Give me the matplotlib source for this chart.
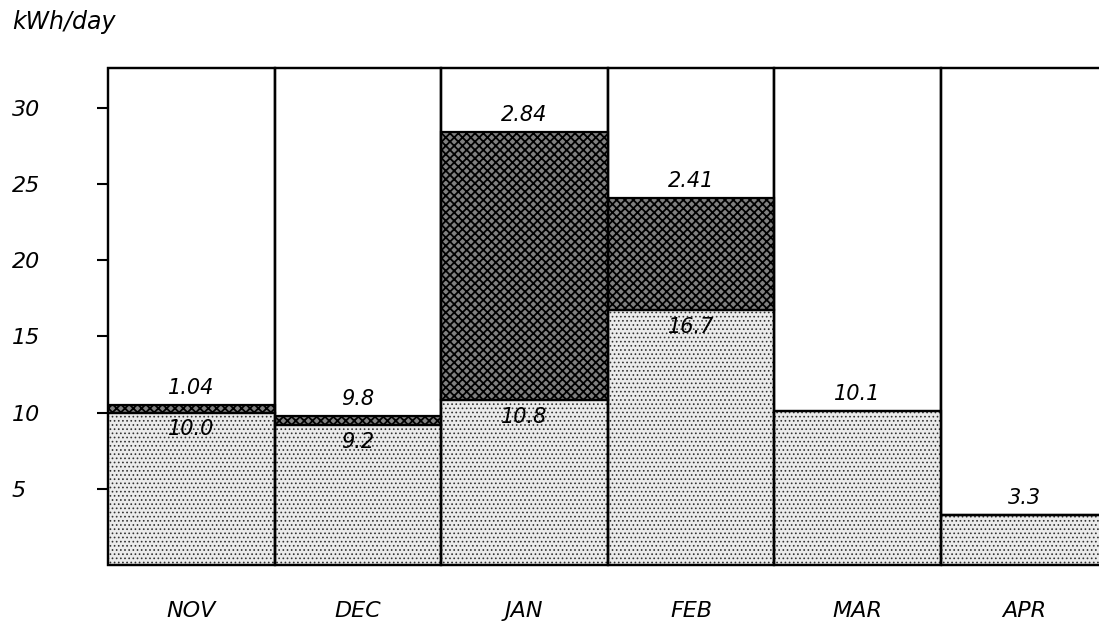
import matplotlib
matplotlib.use("Agg")
import matplotlib.pyplot as plt
import matplotlib.transforms as mtransforms

# dane: dzienne zużycie energii w kolejnych miesiącach
months = ["NOV", "DEC", "JAN", "FEB", "MAR", "APR"]
lower = [10.0, 9.2, 10.8, 16.7, 10.1, 3.3]      # dolna część słupka
upper_top = [10.5, 9.8, 28.4, 24.1, 10.1, 3.3]  # górna krawędź części kratkowanej
top_labels = ["1.04", "9.8", "2.84", "2.41", "10.1", "3.3"]
lower_labels = ["10.0", "9.2", "10.8", "16.7", None, None]
yticks = [5, 10, 15, 20, 25, 30]
frame_top = 32.6

matplotlib.rcParams.update({
    "font.family": "DejaVu Sans",
    "font.style": "italic",
    "hatch.linewidth": 1.2,
})


def set_hatch_lw(bars, lw):
    # grubość kreskowania osobno dla każdej serii (jeśli wersja pozwala)
    for p in bars:
        if hasattr(p, "set_hatch_linewidth"):
            p.set_hatch_linewidth(lw)


fig = plt.figure(figsize=(10.99, 6.29), dpi=100)
ax = fig.add_axes([108 / 1099, 64 / 629, 991 / 1099, 497 / 629])

x = list(range(len(months)))
ax.set_xlim(0, 5.95)
ax.set_ylim(0, frame_top)

# białe kolumny z ramką na pełną wysokość
ax.bar(x, [frame_top] * len(x), width=1.0, align="edge", color="white",
       edgecolor="black", linewidth=1.6, zorder=1, clip_on=False)

# dolna część - drobne kropki
b1 = ax.bar(x, lower, width=1.0, align="edge", color="#ebebeb", hatch="....",
            edgecolor="#333333", linewidth=0, zorder=2)
set_hatch_lw(b1, 0.7)

# górna część - gęsta kratka
up_h = [t - l for t, l in zip(upper_top, lower)]
b2 = ax.bar(x, up_h, bottom=lower, width=1.0, align="edge", color="#808080",
            hatch="xxxx", edgecolor="black", linewidth=0, zorder=2)
set_hatch_lw(b2, 1.3)

# kontury
ax.bar(x, lower, width=1.0, align="edge", fill=False, edgecolor="black",
       linewidth=1.6, zorder=3)
ax.bar(x, up_h, bottom=lower, width=1.0, align="edge", fill=False,
       edgecolor="black", linewidth=1.6, zorder=3)
ax.bar(x, [frame_top] * len(x), width=1.0, align="edge", fill=False,
       edgecolor="black", linewidth=1.6, zorder=3, clip_on=False)

# opisy wartości
for i in x:
    ax.annotate(top_labels[i], (i + 0.5, upper_top[i]), xytext=(0, 5),
                textcoords="offset points", ha="center", va="bottom",
                fontsize=15, zorder=5)
    if lower_labels[i]:
        ax.annotate(lower_labels[i], (i + 0.5, lower[i]), xytext=(0, -5),
                    textcoords="offset points", ha="center", va="top",
                    fontsize=15, zorder=5)

for s in ax.spines.values():
    s.set_visible(False)

ax.set_yticks(yticks)
ax.set_yticklabels([str(v) for v in yticks])
ax.tick_params(axis="y", direction="out", length=8, width=1.5, labelsize=16)
for lab in ax.get_yticklabels():
    lab.set_horizontalalignment("left")
    lab.set_transform(mtransforms.blended_transform_factory(
        fig.transFigure, ax.transData))
    lab.set_x(12 / 1099)

ax.set_xticks([i + 0.5 for i in x])
ax.set_xticklabels(months)
ax.tick_params(axis="x", length=0, pad=26, labelsize=16)

fig.text(12 / 1099, 1 - 22 / 629, "kWh/day", fontsize=17, va="center",
         ha="left")

fig.savefig("out.png", dpi=100)
